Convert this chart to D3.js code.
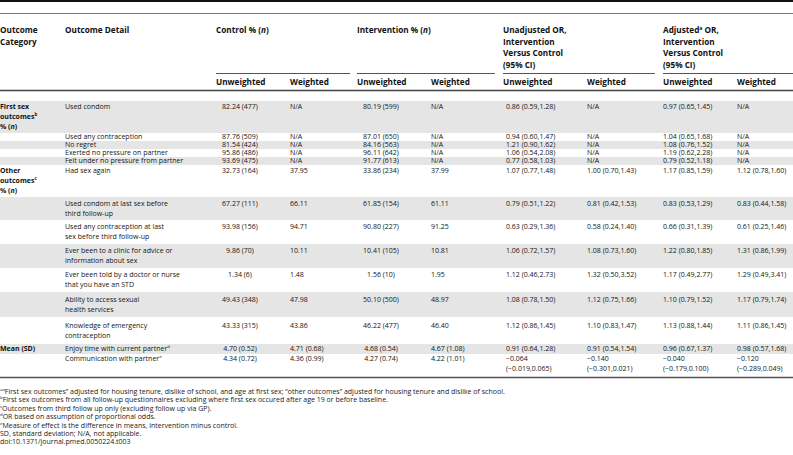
<!DOCTYPE html>
<html><head><meta charset="utf-8">
<script src="https://cdn.jsdelivr.net/npm/d3@7"></script>
<style>
body{margin:0;background:#fff}
svg{display:block}
text{font-family:"Open Sans",sans-serif}
</style>
</head><body>
<svg id="chart" width="793" height="455"></svg>
<script>
// ---------------- DATA ----------------
const columnKeys = ["cat","detail","cu","cw","iu","iw","uu","uw","au","aw"];
const groupHeaders = [
  {key:"cat", label:"Outcome\nCategory"},
  {key:"detail", label:"Outcome Detail"},
  {key:"cu", label:"Control % ({i:n})", span:["cu","cw"]},
  {key:"iu", label:"Intervention % ({i:n})", span:["iu","iw"]},
  {key:"uu", label:"Unadjusted OR,\nIntervention\nVersus Control\n(95% CI)", span:["uu","uw"]},
  {key:"au", label:"Adjusted{sup:a} OR,\nIntervention\nVersus Control\n(95% CI)", span:["au","aw"]}
];
const subHeaderKeys = ["cu","cw","iu","iw","uu","uw","au","aw"];
const subHeaderLabels = ["Unweighted","Weighted","Unweighted","Weighted","Unweighted","Weighted","Unweighted","Weighted"];

const categoryLabels = ["First sex\noutcomes{sup:b}\n% ({i:n})", "Other\noutcomes{sup:c}\n% ({i:n})", "Mean (SD)"];
const categoryStartRow = [0, 5, 12];

const outcomeDetails = [
  "Used condom",
  "Used any contraception",
  "No regret",
  "Exerted no pressure on partner",
  "Felt under no pressure from partner",
  "Had sex again",
  "Used condom at last sex before\nthird follow-up",
  "Used any contraception at last\nsex before third follow-up",
  "Ever been to a clinic for advice or\ninformation about sex",
  "Ever been told by a doctor or nurse\nthat you have an STD",
  "Ability to access sexual\nhealth services",
  "Knowledge of emergency\ncontraception",
  "Enjoy time with current partner{sup:d}",
  "Communication with partner{sup:e}"
];
const controlUnweighted = ["82.24 (477)","87.76 (509)","81.54 (424)","95.86 (486)","93.69 (475)","32.73 (164)","67.27 (111)","93.98 (156)","9.86 (70)","1.34 (6)","49.43 (348)","43.33 (315)","4.70 (0.52)","4.34 (0.72)"];
const controlWeighted = ["N/A","N/A","N/A","N/A","N/A","37.95","66.11","94.71","10.11","1.48","47.98","43.86","4.71 (0.68)","4.36 (0.99)"];
const interventionUnweighted = ["80.19 (599)","87.01 (650)","84.16 (563)","96.11 (642)","91.77 (613)","33.86 (234)","61.85 (154)","90.80 (227)","10.41 (105)","1.56 (10)","50.10 (500)","46.22 (477)","4.68 (0.54)","4.27 (0.74)"];
const interventionWeighted = ["N/A","N/A","N/A","N/A","N/A","37.99","61.11","91.25","10.81","1.95","48.97","46.40","4.67 (1.08)","4.22 (1.01)"];
const unadjustedUnweighted = ["0.86 (0.59,1.28)","0.94 (0.60,1.47)","1.21 (0.90,1.62)","1.06 (0.54,2.08)","0.77 (0.58,1.03)","1.07 (0.77,1.48)","0.79 (0.51,1.22)","0.63 (0.29,1.36)","1.06 (0.72,1.57)","1.12 (0.46,2.73)","1.08 (0.78,1.50)","1.12 (0.86,1.45)","0.91 (0.64,1.28)","\u22120.064\n(\u22120.019,0.065)"];
const unadjustedWeighted = ["N/A","N/A","N/A","N/A","N/A","1.00 (0.70,1.43)","0.81 (0.42,1.53)","0.58 (0.24,1.40)","1.08 (0.73,1.60)","1.32 (0.50,3.52)","1.12 (0.75,1.66)","1.10 (0.83,1.47)","0.91 (0.54,1.54)","\u22120.140\n(\u22120.301,0.021)"];
const adjustedUnweighted = ["0.97 (0.65,1.45)","1.04 (0.65,1.68)","1.08 (0.76,1.52)","1.19 (0.62,2.28)","0.79 (0.52,1.18)","1.17 (0.85,1.59)","0.83 (0.53,1.29)","0.66 (0.31,1.39)","1.22 (0.80,1.85)","1.17 (0.49,2.77)","1.10 (0.79,1.52)","1.13 (0.88,1.44)","0.96 (0.67,1.37)","\u22120.040\n(\u22120.179,0.100)"];
const adjustedWeighted = ["N/A","N/A","N/A","N/A","N/A","1.12 (0.78,1.60)","0.83 (0.44,1.58)","0.61 (0.25,1.46)","1.31 (0.86,1.99)","1.29 (0.49,3.41)","1.17 (0.79,1.74)","1.11 (0.86,1.45)","0.98 (0.57,1.68)","\u22120.120\n(\u22120.289,0.049)"];

const footnotes = [
  "{sup:a}\u201CFirst sex outcomes\u201D adjusted for housing tenure, dislike of school, and age at first sex; \u201Cother outcomes\u201D adjusted for housing tenure and dislike of school.",
  "{sup:b}First sex outcomes from all follow-up questionnaires excluding where first sex occured after age 19 or before baseline.",
  "{sup:c}Outcomes from third follow up only (excluding follow up via GP).",
  "{sup:d}OR based on assumption of proportional odds.",
  "{sup:e}Measure of effect is the difference in means, intervention minus control.",
  "SD, standard deviation; N/A, not applicable.",
  "doi:10.1371/journal.pmed.0050224.t003"
];

// ---------------- LAYOUT ----------------
const W = 793, H = 455;
const bodyFont = 7, headFont = 8.2, noteFont = 7.0;
const lineH = 10, headLineH = 11.7, noteLineH = 8.4;
const rowEdges = [101,133,141,149,157,165,197,220,244,268,292,317,344,354,374];
const bottomRuleY = 377.5, noteTop = 391.5;
const colX = d3.scaleOrdinal().domain(columnKeys).range([0,65,216,290,357,431,503,587,663,737]);
const colEnd = d3.scaleOrdinal().domain(columnKeys).range([60,210,333,350,478,495,639,655,793,793]);
const cellAlign = {cu:{anchor:"middle",dx:24}, iu:{anchor:"middle",dx:24}, uu:{anchor:"start",dx:3}};
const bandColor = "#e5e5e5";

const svg = d3.select("#chart");
svg.append("rect").attr("width",W).attr("height",H).attr("fill","#fff");

function rich(sel, str, fs){
  const re = /\{(sup|i):([^}]*)\}/g;
  let last = 0, m;
  const parts = [];
  while((m = re.exec(str))){
    if(m.index>last) parts.push({t:str.slice(last,m.index)});
    parts.push({t:m[2], k:m[1]});
    last = re.lastIndex;
  }
  if(last<str.length) parts.push({t:str.slice(last)});
  parts.forEach(p=>{
    const ts = sel.append("tspan").text(p.t);
    if(p.k==="i") ts.attr("font-style","italic");
    if(p.k==="sup"){ ts.attr("font-size",fs*0.62).attr("baseline-shift","super"); }
  });
}
function multiline(g, str, x, y, lh, fs, opts={}){
  str.split("\n").forEach((line,i)=>{
    const t = g.append("text").attr("x",x).attr("y",y+i*lh).attr("dy","0.35em")
      .attr("font-size",fs).attr("fill",opts.fill||"#151515")
      .attr("font-weight",opts.weight||"normal")
      .attr("text-anchor",opts.anchor||"start");
    rich(t,line,fs);
  });
}

// row bands
const nRows = outcomeDetails.length;
const rowIdx = d3.range(nRows);
const bands = svg.append("g");
bands.selectAll("rect").data(rowIdx.filter(i=>i%2===0)).join("rect")
  .attr("x",0).attr("width",W)
  .attr("y",i=>rowEdges[i]).attr("height",i=>rowEdges[i+1]-rowEdges[i])
  .attr("fill",bandColor);

// rules
const rules = svg.append("g");
rules.append("line").attr("x1",0).attr("x2",W).attr("y1",1).attr("y2",1).attr("stroke","#111").attr("stroke-width",2);
rules.append("line").attr("x1",0).attr("x2",W).attr("y1",13.5).attr("y2",13.5).attr("stroke","#777").attr("stroke-width",1);
groupHeaders.filter(d=>d.span).forEach(d=>{
  rules.append("line").attr("x1",colX(d.span[0])).attr("x2",colEnd(d.span[1])).attr("y1",73.5).attr("y2",73.5)
    .attr("stroke","#555").attr("stroke-width",1);
});
rules.append("line").attr("x1",0).attr("x2",W).attr("y1",90.5).attr("y2",90.5).attr("stroke","#444").attr("stroke-width",1.5);
rules.append("line").attr("x1",0).attr("x2",W).attr("y1",bottomRuleY).attr("y2",bottomRuleY).attr("stroke","#555").attr("stroke-width",1.5);

// headers
const head = svg.append("g");
groupHeaders.forEach(d=>{
  multiline(head, d.label, colX(d.key), 30, headLineH, headFont, {weight:"bold", fill:"#111"});
});
subHeaderKeys.forEach((k,i)=>{
  multiline(head, subHeaderLabels[i], colX(k), 82, headLineH, headFont, {weight:"bold", fill:"#111"});
});

// body
const body = svg.append("g");
const columns = {cu:controlUnweighted, cw:controlWeighted, iu:interventionUnweighted, iw:interventionWeighted,
  uu:unadjustedUnweighted, uw:unadjustedWeighted, au:adjustedUnweighted, aw:adjustedWeighted};
function rowLines(i){
  let n = outcomeDetails[i].split("\n").length;
  Object.values(columns).forEach(a=>{ n = Math.max(n, a[i].split("\n").length); });
  const ci = categoryStartRow.indexOf(i);
  if(ci>=0) n = Math.max(n, categoryLabels[ci].split("\n").length);
  return n;
}
function firstLineY(i){
  const n = rowLines(i);
  const top = rowEdges[i], bot = rowEdges[i+1];
  return (top+bot)/2 - (n-1)*lineH/2;
}
categoryLabels.forEach((lab,ci)=>{
  const r = categoryStartRow[ci];
  multiline(body, lab, colX("cat"), firstLineY(r), lineH, bodyFont, {weight:"bold", fill:"#111"});
});
rowIdx.forEach(i=>{
  const y = firstLineY(i);
  multiline(body, outcomeDetails[i], colX("detail"), y, lineH, bodyFont);
  Object.keys(columns).forEach(k=>{
    const al = cellAlign[k] || {anchor:"start", dx:0};
    multiline(body, columns[k][i], colX(k)+al.dx, y, lineH, bodyFont, {anchor:al.anchor});
  });
});

// footnotes
const notes = svg.append("g");
footnotes.forEach((f,i)=>{
  multiline(notes, f, 0, noteTop + i*noteLineH, noteLineH, noteFont, {fill:"#222"});
});
</script>
</body></html>
